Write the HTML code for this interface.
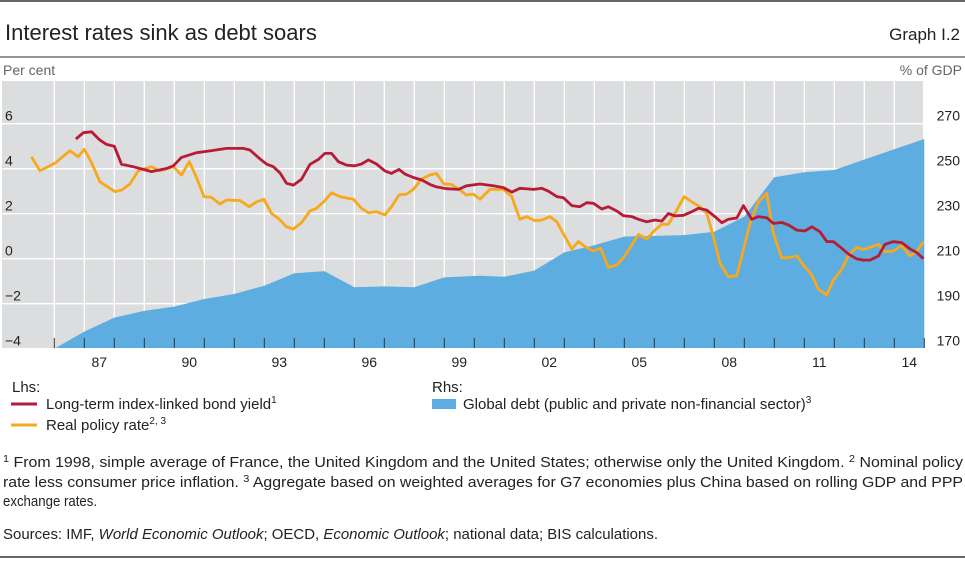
<!DOCTYPE html>
<html><head><meta charset="utf-8"><style>
html,body{margin:0;padding:0;background:#fff;}
svg{display:block;font-family:"Liberation Sans",sans-serif;}
</style></head><body>
<svg id="chart" width="965" height="561" viewBox="0 0 965 561">
<line x1="0" y1="1" x2="965" y2="1" stroke="#333" stroke-width="1.5"/>
<text x="5" y="40" font-size="22" fill="#222">Interest rates sink as debt soars</text>
<text x="960" y="40" font-size="17" fill="#222" text-anchor="end">Graph I.2</text>
<line x1="0" y1="57" x2="965" y2="57" stroke="#555" stroke-width="1.2"/>
<text x="3" y="75" font-size="14" fill="#666">Per cent</text>
<text x="962" y="75" font-size="14" fill="#666" text-anchor="end">% of GDP</text>
<rect x="2" y="81" width="921" height="267" fill="#dcdddf"/>
<g id="grid"></g>
<g id="series"></g>
<g id="axes"></g>
<g>
<text x="12" y="392" font-size="15" fill="#222">Lhs:</text>
<line x1="11" y1="404" x2="37" y2="404" stroke="#b71c36" stroke-width="3"/>
<text x="46" y="409" font-size="15" fill="#222">Long-term index-linked bond yield<tspan font-size="10" dy="-6">1</tspan></text>
<line x1="11" y1="425" x2="37" y2="425" stroke="#f7a81b" stroke-width="3"/>
<text x="46" y="430" font-size="15" fill="#222">Real policy rate<tspan font-size="10" dy="-6">2, 3</tspan></text>
<text x="432" y="392" font-size="15" fill="#222">Rhs:</text>
<rect x="432" y="399" width="24" height="10" fill="#5dade0"/>
<text x="463" y="409" font-size="15" fill="#222">Global debt (public and private non-financial sector)<tspan font-size="10" dy="-6">3</tspan></text>
</g>
<g font-size="14.5" fill="#222">
<text x="3" y="467" textLength="960" lengthAdjust="spacingAndGlyphs"><tspan font-size="10" dy="-5">1</tspan><tspan dy="5">  From 1998, simple average of France, the United Kingdom and the United States; otherwise only the United Kingdom.    </tspan><tspan font-size="10" dy="-5">2</tspan><tspan dy="5">  Nominal policy</tspan></text>
<text x="3" y="487" textLength="960" lengthAdjust="spacingAndGlyphs">rate less consumer price inflation.    <tspan font-size="10" dy="-5">3</tspan><tspan dy="5">  Aggregate based on weighted averages for G7 economies plus China based on rolling GDP and PPP</tspan></text>
<text x="3" y="506" textLength="94" lengthAdjust="spacingAndGlyphs">exchange rates.</text>
<text x="3" y="539" textLength="655" lengthAdjust="spacingAndGlyphs">Sources: IMF, <tspan font-style="italic">World Economic Outlook</tspan>; OECD, <tspan font-style="italic">Economic Outlook</tspan>; national data; BIS calculations.</text>
</g>
<line x1="0" y1="557" x2="965" y2="557" stroke="#333" stroke-width="1.5"/>
</svg>
<script>
const lhsTicks = [-4, -2, 0, 2, 4, 6];
const rhsTicks = ["170", "190", "210", "230", "250", "270"];
const yearLabels = ["87","90","93","96","99","02","05","08","11","14"];
const yearLabelYears = [1987,1990,1993,1996,1999,2002,2005,2008,2011,2014];
const debtYears = [1986,1987,1988,1989,1990,1991,1992,1993,1994,1995,1996,1997,1998,1999,2000.19,2001,2002,2003,2004,2005,2007,2008,2009,2010,2011,2012,2013,2015];
const debtValues = [170,177.6,183.8,186.8,188.7,192.1,194.3,198,203.5,204.5,197.3,197.7,197.3,201.7,202.4,202,204.7,212.8,216,219.8,220.5,222,228.7,246.2,248.4,249.4,254.1,263.2];
const bondDates = [1986.72,1986.97,1987.24,1987.52,1987.74,1988.0,1988.24,1988.63,1989.24,1989.74,1989.97,1990.24,1990.74,1991.19,1991.74,1992.3,1992.52,1992.86,1993.08,1993.3,1993.52,1993.74,1993.97,1994.24,1994.52,1994.8,1995.02,1995.24,1995.47,1995.74,1996.02,1996.24,1996.47,1996.74,1997.02,1997.24,1997.49,1997.69,1997.97,1998.24,1998.52,1998.74,1999.08,1999.47,1999.74,2000.19,2000.63,2000.97,2001.25,2001.52,2001.97,2002.25,2002.47,2002.75,2002.97,2003.25,2003.52,2003.75,2003.97,2004.25,2004.47,2004.75,2004.97,2005.25,2005.47,2005.75,2006.02,2006.25,2006.47,2006.69,2006.97,2007.25,2007.47,2007.75,2008.02,2008.25,2008.47,2008.75,2008.97,2009.25,2009.47,2009.75,2009.97,2010.25,2010.47,2010.75,2011.02,2011.25,2011.52,2011.75,2011.97,2012.25,2012.47,2012.75,2012.97,2013.19,2013.47,2013.69,2013.97,2014.25,2014.52,2014.75,2014.97];
const bondValues = [5.32,5.6,5.64,5.27,5.08,5.0,4.2,4.09,3.87,4.01,4.13,4.5,4.71,4.79,4.9,4.9,4.83,4.43,4.2,4.09,3.82,3.35,3.27,3.53,4.19,4.41,4.68,4.68,4.31,4.16,4.13,4.21,4.39,4.21,3.9,3.79,3.97,3.76,3.61,3.5,3.3,3.19,3.11,3.08,3.24,3.32,3.24,3.16,2.96,3.13,3.08,3.13,3.0,2.76,2.71,2.36,2.31,2.49,2.46,2.21,2.31,2.12,1.91,1.87,1.75,1.64,1.72,1.67,2.01,1.9,1.93,2.09,2.24,2.16,1.87,1.6,1.75,1.81,2.36,1.75,1.87,1.82,1.57,1.61,1.5,1.27,1.23,1.42,1.2,0.76,0.76,0.46,0.21,-0.01,-0.06,-0.06,0.12,0.64,0.76,0.71,0.44,0.27,0];
const policyDates = [1985.24,1985.52,1986.02,1986.52,1986.8,1987.0,1987.24,1987.52,1988.02,1988.24,1988.52,1988.8,1989.24,1989.52,1989.97,1990.24,1990.5,1990.74,1990.99,1991.24,1991.52,1991.74,1992.19,1992.5,1992.74,1992.99,1993.24,1993.47,1993.74,1993.97,1994.24,1994.52,1994.74,1995.02,1995.24,1995.52,1995.97,1996.24,1996.47,1996.74,1997.02,1997.24,1997.49,1997.74,1997.97,1998.24,1998.52,1998.74,1998.99,1999.24,1999.52,1999.74,1999.97,2000.19,2000.52,2000.97,2001.25,2001.52,2001.75,2002.02,2002.25,2002.52,2002.75,2003.25,2003.47,2003.75,2003.97,2004.21,2004.47,2004.75,2004.97,2005.25,2005.47,2005.75,2006.02,2006.25,2006.47,2006.75,2006.99,2007.25,2007.52,2007.75,2007.97,2008.19,2008.47,2008.75,2008.97,2009.19,2009.47,2009.75,2009.97,2010.25,2010.47,2010.75,2010.97,2011.25,2011.47,2011.75,2011.97,2012.25,2012.47,2012.75,2012.97,2013.25,2013.47,2013.69,2013.97,2014.25,2014.52,2014.75,2014.97];
const policyValues = [4.53,3.91,4.24,4.8,4.53,4.86,4.27,3.42,2.98,3.05,3.32,3.91,4.09,3.9,4.09,3.72,4.31,3.61,2.76,2.73,2.43,2.61,2.58,2.31,2.53,2.64,2.01,1.79,1.42,1.32,1.6,2.12,2.24,2.58,2.93,2.76,2.64,2.24,2.04,2.09,1.94,2.31,2.83,2.87,3.08,3.54,3.72,3.79,3.32,3.3,3.05,2.83,2.87,2.64,3.08,3.08,2.76,1.75,1.87,1.69,1.72,1.87,1.64,0.43,0.76,0.49,0.34,0.46,-0.39,-0.28,0.04,0.61,1.08,0.87,1.27,1.53,1.53,2.16,2.76,2.53,2.31,2.01,0.98,-0.21,-0.8,-0.76,0.39,1.57,2.53,2.9,1.13,0.04,0.04,0.13,-0.28,-0.73,-1.36,-1.61,-0.95,-0.47,0.16,0.5,0.41,0.53,0.64,0.31,0.34,0.58,0.13,0.31,0.76];

const NS = "http://www.w3.org/2000/svg";
const PL = 2, PR = 923, PT = 81, PB = 348;
function xScale(t){ return 84.3 + (t - 1987) * 30; }
function yL(v){ return 258.7 - v * 22.5; }
function yR(v){ return yL((v - 210) / 10); }
function mk(tag, attrs, parent){ const e = document.createElementNS(NS, tag); for (const k in attrs) e.setAttribute(k, attrs[k]); parent.appendChild(e); return e; }
const grid = document.getElementById('grid');
const series = document.getElementById('series');
const axes = document.getElementById('axes');

for (let i = 0; i < lhsTicks.length; i++) {
  const y = yL(lhsTicks[i]);
  if (i > 0) {
    const g = mk('line', {x1: PL, x2: PR, y1: y, y2: y, stroke: '#fff', 'stroke-width': 1.3}, grid);
    
    
  }
  const t = mk('text', {x: 5, y: y - 3, 'font-size': 14, fill: '#222'}, axes);
  t.textContent = String(lhsTicks[i]).replace('-', '\u2212');
  
  
  const r = mk('text', {x: 960, y: y - 3, 'font-size': 14, fill: '#222', 'text-anchor': 'end'}, axes);
  r.textContent = rhsTicks[i];
  
  
}
for (let yr = 1986; yr <= 2014; yr++) {
  const x = xScale(yr);
  const g = mk('line', {x1: x, x2: x, y1: PT, y2: PB, stroke: '#fff', 'stroke-width': 1.3}, grid);
  
  
}
let d = 'M' + xScale(debtYears[0]) + ',' + PB;
for (let i = 0; i < debtYears.length; i++) d += ' L' + xScale(debtYears[i]).toFixed(1) + ',' + yR(debtValues[i]).toFixed(1);
d += ' L' + xScale(debtYears[debtYears.length - 1]) + ',' + PB + ' Z';
const area = mk('path', {d: d, fill: '#5dade0'}, series);


function line(dates, vals, color, name){
  let p = '';
  for (let i = 0; i < dates.length; i++) p += (i ? ' L' : 'M') + xScale(dates[i]).toFixed(1) + ',' + yL(vals[i]).toFixed(1);
  const e = mk('path', {d: p, fill: 'none', stroke: color, 'stroke-width': 2.8, 'stroke-linejoin': 'round'}, series);
  
  
}
line(policyDates, policyValues, '#f7a81b', 'real-policy-rate-line');
line(bondDates, bondValues, '#b71c36', 'bond-yield-line');
for (let yr = 1986; yr <= 2015; yr++) {
  const x = xScale(yr);
  const t = mk('line', {x1: x, x2: x, y1: PB - 10, y2: PB, stroke: '#333', 'stroke-width': 1}, axes);
  
  
}
for (let i = 0; i < yearLabels.length; i++) {
  const t = mk('text', {x: xScale(yearLabelYears[i] + 0.5), y: 367, 'font-size': 14, fill: '#222', 'text-anchor': 'middle'}, axes);
  t.textContent = yearLabels[i];
  
  
}
</script>
</body></html>
